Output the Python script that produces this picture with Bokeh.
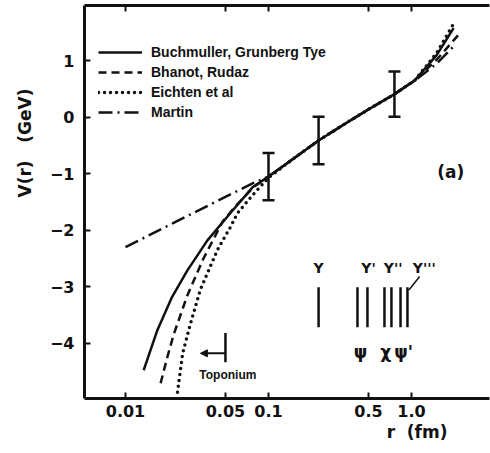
from bokeh.plotting import figure
from bokeh.models import (FixedTicker, LogAxis, Label, Whisker, ColumnDataSource,
                          Legend, LegendItem, TeeHead, Arrow, NormalHead, Title)
from bokeh.embed import file_html
from bokeh.resources import INLINE
from bokeh.core.properties import value

# ---------------- data ----------------
shared_r = [0.15, 0.224, 0.35, 0.5, 0.76, 1.05]
shared_v = [-0.73, -0.41, -0.10, 0.14, 0.41, 0.65]

buch_r = [0.0134, 0.0167, 0.021, 0.0271, 0.0374, 0.054, 0.0773, 0.1] + shared_r + [1.5, 1.97]
buch_v = [-4.48, -3.77, -3.20, -2.71, -2.18, -1.70, -1.24, -1.05] + shared_v + [1.10, 1.58]

bhan_r = [0.0176, 0.0196, 0.0217, 0.0271, 0.0351, 0.0477, 0.06, 0.08, 0.1] + shared_r + [1.5, 2.2]
bhan_v = [-4.71, -4.25, -3.85, -3.15, -2.50, -1.85, -1.55, -1.22, -1.05] + shared_v + [1.02, 1.50]

eich_r = [0.0231, 0.0251, 0.0285, 0.0334, 0.0439, 0.054, 0.0606, 0.0773, 0.1] + shared_r + [1.5, 1.95]
eich_v = [-4.87, -4.18, -3.65, -3.05, -2.35, -1.95, -1.70, -1.38, -1.07] + shared_v + [1.14, 1.64]

mart_r = [0.01, 0.0217, 0.0773, 0.1] + shared_r + [1.5, 2.05]
mart_v = [-2.30, -1.87, -1.17, -1.05] + shared_v + [0.95, 1.30]

err_r = [0.1, 0.224, 0.76]
err_v = [-1.05, -0.41, 0.41]
err_dv = [0.42, 0.42, 0.40]

level_r = [0.224, 0.419, 0.492, 0.647, 0.724, 0.838, 0.937]
level_top, level_bot = -3.01, -3.72
ups_lab = ["Υ", "Υ'", "Υ''", "Υ'''"]
ups_lab_r = [0.224, 0.50, 0.745, 1.23]
psi_lab = ["ψ", "χ", "ψ'"]
psi_lab_r = [0.44, 0.66, 0.88]

x_ticks = [0.01, 0.05, 0.1, 0.5, 1.0]
x_tick_labels = ["0.01", "0.05", "0.1", "0.5", "1.0"]
y_ticks = [-4, -3, -2, -1, 0, 1]

legend_labels = ["Buchmuller, Grunberg Tye", "Bhanot, Rudaz", "Eichten et al", "Martin"]

INK = "#111111"
FONT = "Liberation Sans"
BOLD = "DejaVu Sans"
NB = "\u00a0"

# ---------------- figure ----------------
p = figure(width=490, height=453, x_axis_type="log",
           x_range=(10 ** (-2 - 41 / 143), 10 ** (-2 + 364 / 143)), y_range=(-4.98, 1.98),
           output_backend="svg", toolbar_location=None,
           min_border_left=84, min_border_right=1, min_border_top=5, min_border_bottom=55)
p.grid.visible = False
p.outline_line_color = None
p.background_fill_color = "white"
p.border_fill_color = "white"

for ax in (p.xaxis[0], p.yaxis[0]):
    ax.axis_line_width = 3
    ax.axis_line_color = INK
    ax.major_tick_in = 6
    ax.major_tick_out = 0
    ax.major_tick_line_width = 2
    ax.major_tick_line_color = INK
    ax.minor_tick_line_color = None
    ax.major_label_text_font = BOLD
    ax.major_label_text_font_style = "bold"
    ax.major_label_text_font_size = "16px"
    ax.major_label_text_color = INK

p.xaxis.ticker = FixedTicker(ticks=x_ticks)
p.xaxis.major_label_overrides = {t: l for t, l in zip(x_ticks, x_tick_labels)}
p.xaxis.major_label_standoff = 6
p.yaxis.ticker = FixedTicker(ticks=y_ticks)
p.yaxis.major_label_standoff = 10

top = LogAxis(ticker=FixedTicker(ticks=x_ticks), axis_line_width=3, axis_line_color=INK,
              major_tick_in=6, major_tick_out=0, major_tick_line_width=2,
              major_tick_line_color=INK, minor_tick_line_color=None,
              major_label_text_font_size="0px", major_label_text_color=None,
              major_label_standoff=0)
p.add_layout(top, "above")

# axis titles as titles so they are not clipped
p.add_layout(Title(text="r" + NB * 2 + "(fm)", align="right", offset=42, standoff=0,
                   text_font=BOLD, text_font_size="17px", text_font_style="bold",
                   text_color=INK), "below")
p.add_layout(Title(text="V(r)" + NB * 3 + "(GeV)", align="right", offset=83, standoff=24,
                   text_font=BOLD, text_font_size="17px", text_font_style="bold",
                   text_color=INK), "left")

# ---------------- curves ----------------
r1 = p.line(buch_r, buch_v, line_color=INK, line_width=2.5)
r2 = p.line(bhan_r, bhan_v, line_color=INK, line_width=2.5, line_dash="8 5")
r3 = p.line(eich_r, eich_v, line_color=INK, line_width=3.5, line_dash="0 6", line_cap="round")
r4 = p.line(mart_r, mart_v, line_color=INK, line_width=2.5, line_dash="14 5 2 5")

# error bars
src = ColumnDataSource(dict(r=err_r, lo=[v - d for v, d in zip(err_v, err_dv)],
                            hi=[v + d for v, d in zip(err_v, err_dv)]))
p.add_layout(Whisker(source=src, base="r", lower="lo", upper="hi", line_color=INK, line_width=2.5,
                     upper_head=TeeHead(size=12, line_width=2.5, line_color=INK),
                     lower_head=TeeHead(size=12, line_width=2.5, line_color=INK)))

# level lines
p.segment(x0=level_r, y0=[level_top] * len(level_r), x1=level_r, y1=[level_bot] * len(level_r),
          line_color=INK, line_width=2.5)
p.text(x=ups_lab_r, y=[-2.66] * 4, text=ups_lab, text_font=value(BOLD),
       text_font_style="bold", text_font_size="14px", text_align="center",
       text_baseline="middle", text_color=INK)
p.text(x=psi_lab_r, y=[-4.15] * 3, text=psi_lab, text_font=value(BOLD),
       text_font_style="bold", text_font_size="17px", text_align="center",
       text_baseline="middle", text_color=INK)
p.line(x=[1.14, 0.96], y=[-2.82, -3.06], line_color=INK, line_width=1.5)

# toponium
p.segment(x0=[0.05], y0=[-3.82], x1=[0.05], y1=[-4.34], line_color=INK, line_width=2.5)
p.add_layout(Arrow(x_start=0.05, y_start=-4.18, x_end=0.0334, y_end=-4.18, line_color=INK,
                   line_width=2, end=NormalHead(size=7, fill_color=INK, line_color=INK)))
p.add_layout(Label(x=0.052, y=-4.57, text="Toponium", text_font=FONT, text_font_size="12px",
                   text_font_style="bold", text_align="center", text_baseline="middle",
                   text_color=INK))

# panel label
p.add_layout(Label(x=1.88, y=-0.97, text="(a)", text_font=BOLD, text_font_size="17px",
                   text_font_style="bold", text_align="center", text_baseline="middle",
                   text_color=INK))

# legend
legend = Legend(items=[LegendItem(label=l, renderers=[r]) for l, r in zip(legend_labels, [r1, r2, r3, r4])],
                location=(14, 276), padding=0, margin=0, spacing=0, glyph_width=44, glyph_height=20,
                label_height=20, label_standoff=9, background_fill_alpha=0, border_line_color=None,
                label_text_font=FONT, label_text_font_size="14px", label_text_font_style="bold",
                label_text_color=INK)
p.add_layout(legend)

open("out.html", "w").write(file_html(p, INLINE))
